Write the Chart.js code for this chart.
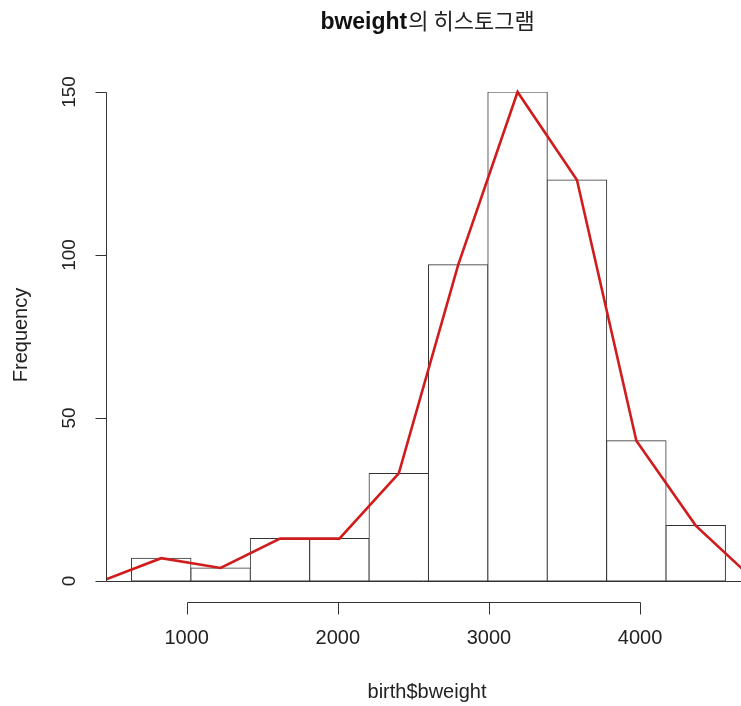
<!DOCTYPE html>
<html>
<head>
<meta charset="utf-8">
<script src="https://cdn.jsdelivr.net/npm/chart.js@4"></script>
<style>
  body{margin:0;background:#fff;}
  canvas{display:block;}
</style>
</head>
<body>
<canvas id="grafico" width="741" height="706"></canvas>
<script>
// datos del histograma (birth$bweight)
const cortes=[635,1028,1421,1814,2207,2600,2993,3386,3779,4172,4565]
const medios=[831.5,1224.5,1617.5,2010.5,2403.5,2796.5,3189.5,3582.5,3975.5,4368.5]
const frecuencias=[7,4,13,13,33,97,150,123,43,17]

// poligono de frecuencias (con un punto 0 a cada lado)
const poligonoX=[438.5,831.5,1224.5,1617.5,2010.5,2403.5,2796.5,3189.5,3582.5,3975.5,4368.5,4761.5]
const poligonoY=[0,7,4,13,13,33,97,150,123,43,17,0]

const ticksX=[1000,2000,3000,4000]
const ticksY=[0,50,100,150]

const titulo1="bweight"
const titulo2="의 히스토그램"
const tituloX="birth$bweight"
const tituloY="Frequency"

const latin='"Liberation Sans", Arial, sans-serif'
const hangul='"Noto Sans CJK KR", sans-serif'

// ejes al estilo de R
const ejesR={
    id:'ejesR',
    afterDraw(chart){
        const ctx=chart.ctx
        const area=chart.chartArea
        const x=chart.scales.x
        const y=chart.scales.y
        ctx.save()
        ctx.strokeStyle='#333'
        ctx.fillStyle='#222'
        ctx.lineWidth=1

        const ax=Math.round(area.left)+0.5
        const y0=Math.round(y.getPixelForValue(0))+0.5

        // eje y
        ctx.beginPath()
        ctx.moveTo(ax,y0)
        ctx.lineTo(ax,Math.round(y.getPixelForValue(150))+0.5)
        ticksY.forEach(v=>{
            const py=Math.round(y.getPixelForValue(v))+0.5
            ctx.moveTo(ax-11,py)
            ctx.lineTo(ax,py)
        })
        // linea base
        ctx.moveTo(ax,y0)
        ctx.lineTo(area.right,y0)
        ctx.stroke()

        ctx.font='19px '+latin
        ctx.textAlign='center'
        ctx.textBaseline='middle'
        ticksY.forEach(v=>{
            const py=y.getPixelForValue(v)
            ctx.save()
            ctx.translate(ax-37,py)
            ctx.rotate(-Math.PI/2)
            ctx.fillText(String(v),0,0)
            ctx.restore()
        })

        // eje x
        const ey=y0+21
        ctx.beginPath()
        ctx.moveTo(Math.round(x.getPixelForValue(ticksX[0]))+0.5,ey)
        ctx.lineTo(Math.round(x.getPixelForValue(ticksX[ticksX.length-1]))+0.5,ey)
        ticksX.forEach(v=>{
            const px=Math.round(x.getPixelForValue(v))+0.5
            ctx.moveTo(px,ey)
            ctx.lineTo(px,ey+12)
        })
        ctx.stroke()
        ctx.font='20px '+latin
        ticksX.forEach(v=>{
            ctx.fillText(String(v),x.getPixelForValue(v),ey+36)
        })

        // titulos de los ejes
        ctx.fillText(tituloX,427,692)
        ctx.save()
        ctx.translate(21,335)
        ctx.rotate(-Math.PI/2)
        ctx.fillText(tituloY,0,0)
        ctx.restore()

        // titulo principal
        ctx.textAlign='left'
        ctx.fillStyle='#111'
        ctx.font='bold 23px '+latin
        const w1=ctx.measureText(titulo1).width
        ctx.font='22px '+hangul
        const w2=ctx.measureText(titulo2).width
        const x0=427-(w1+w2)/2
        ctx.textBaseline='alphabetic'
        ctx.font='bold 23px '+latin
        ctx.fillText(titulo1,x0,29)
        ctx.fillStyle='#222'
        ctx.font='22px '+hangul
        ctx.fillText(titulo2,x0+w1+1,29)

        ctx.restore()
    }
}

const barras=medios.map((m,i)=>({x:m,y:frecuencias[i]}))
const linea=poligonoX.map((m,i)=>({x:m,y:poligonoY[i]}))

new Chart(document.getElementById('grafico'),{
    type:'bar',
    data:{
        datasets:[
            {
                type:'line',
                data:linea,
                borderColor:'#d01c1c',
                borderWidth:2.6,
                pointRadius:0,
                tension:0,
                fill:false,
                order:0,
                clip:{left:0,top:5,right:0,bottom:5}
            },
            {
                type:'bar',
                data:barras,
                backgroundColor:'#ffffff',
                borderColor:'#333',
                borderWidth:1,
                borderSkipped:false,
                inflateAmount:0.5,
                barPercentage:1,
                categoryPercentage:1,
                order:1
            }
        ]
    },
    options:{
        responsive:false,
        animation:false,
        devicePixelRatio:1,
        layout:{padding:{left:106,right:0,top:92,bottom:125}},
        plugins:{legend:{display:false},tooltip:{enabled:false},title:{display:false}},
        scales:{
            x:{type:'linear',min:466,max:4668,offset:false,display:false},
            y:{type:'linear',min:0,max:150,display:false}
        }
    },
    plugins:[ejesR]
})
</script>
</body>
</html>
